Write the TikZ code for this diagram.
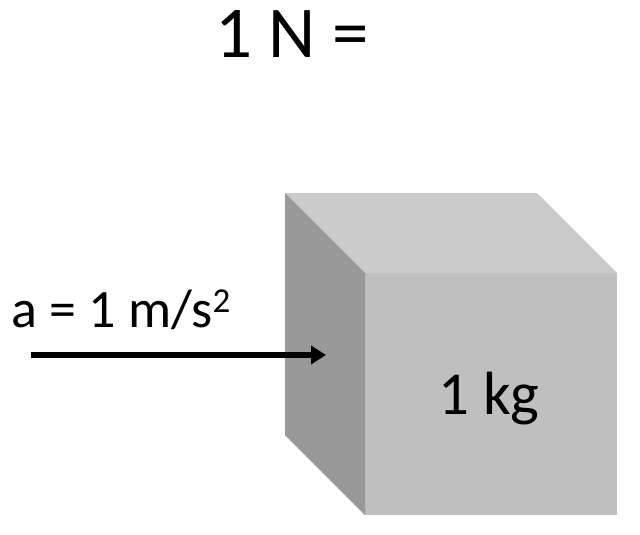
\documentclass[tikz,border=0pt]{standalone}
\usepackage{fontspec}
\setmainfont{Carlito}
\usetikzlibrary{arrows.meta}
\begin{document}
\begin{tikzpicture}[x=1pt,y=-1pt,
  lbl/.style={inner sep=0pt,text=black}]
\useasboundingbox (0,0) rectangle (640,535);
\coordinate (A) at (285,193);
\coordinate (B) at (537,193);
\coordinate (C) at (617,273);
\coordinate (D) at (365,273);
\coordinate (E) at (365,515);
\coordinate (F) at (617,515);
\coordinate (G) at (285,435);
\fill[fill={rgb,255:red,203;green,203;blue,203}] (A)--(B)--(C)--(D)--cycle;
\fill[fill={rgb,255:red,191;green,191;blue,191}] (D)--(C)--(F)--(E)--cycle;
\fill[fill={rgb,255:red,153;green,153;blue,153}] (A)--(D)--(E)--(G)--cycle;
\node[lbl,font=\fontsize{73}{78}\selectfont] (title) at (292,34) {1 N =};
\node[lbl,font=\fontsize{54}{58}\selectfont] (acc) at (121,310) {a = 1 m/s\raisebox{15pt}{\fontsize{35}{38}\selectfont 2}};
\node[lbl,font=\fontsize{61}{66}\selectfont] (mass) at (489,399) {1 kg};
\coordinate (s) at (31,355);
\coordinate (e) at (326,355);
\draw[line width=5.5pt,-{Triangle[length=15pt,width=18pt]}] (s)--(e);
\end{tikzpicture}
\end{document}
